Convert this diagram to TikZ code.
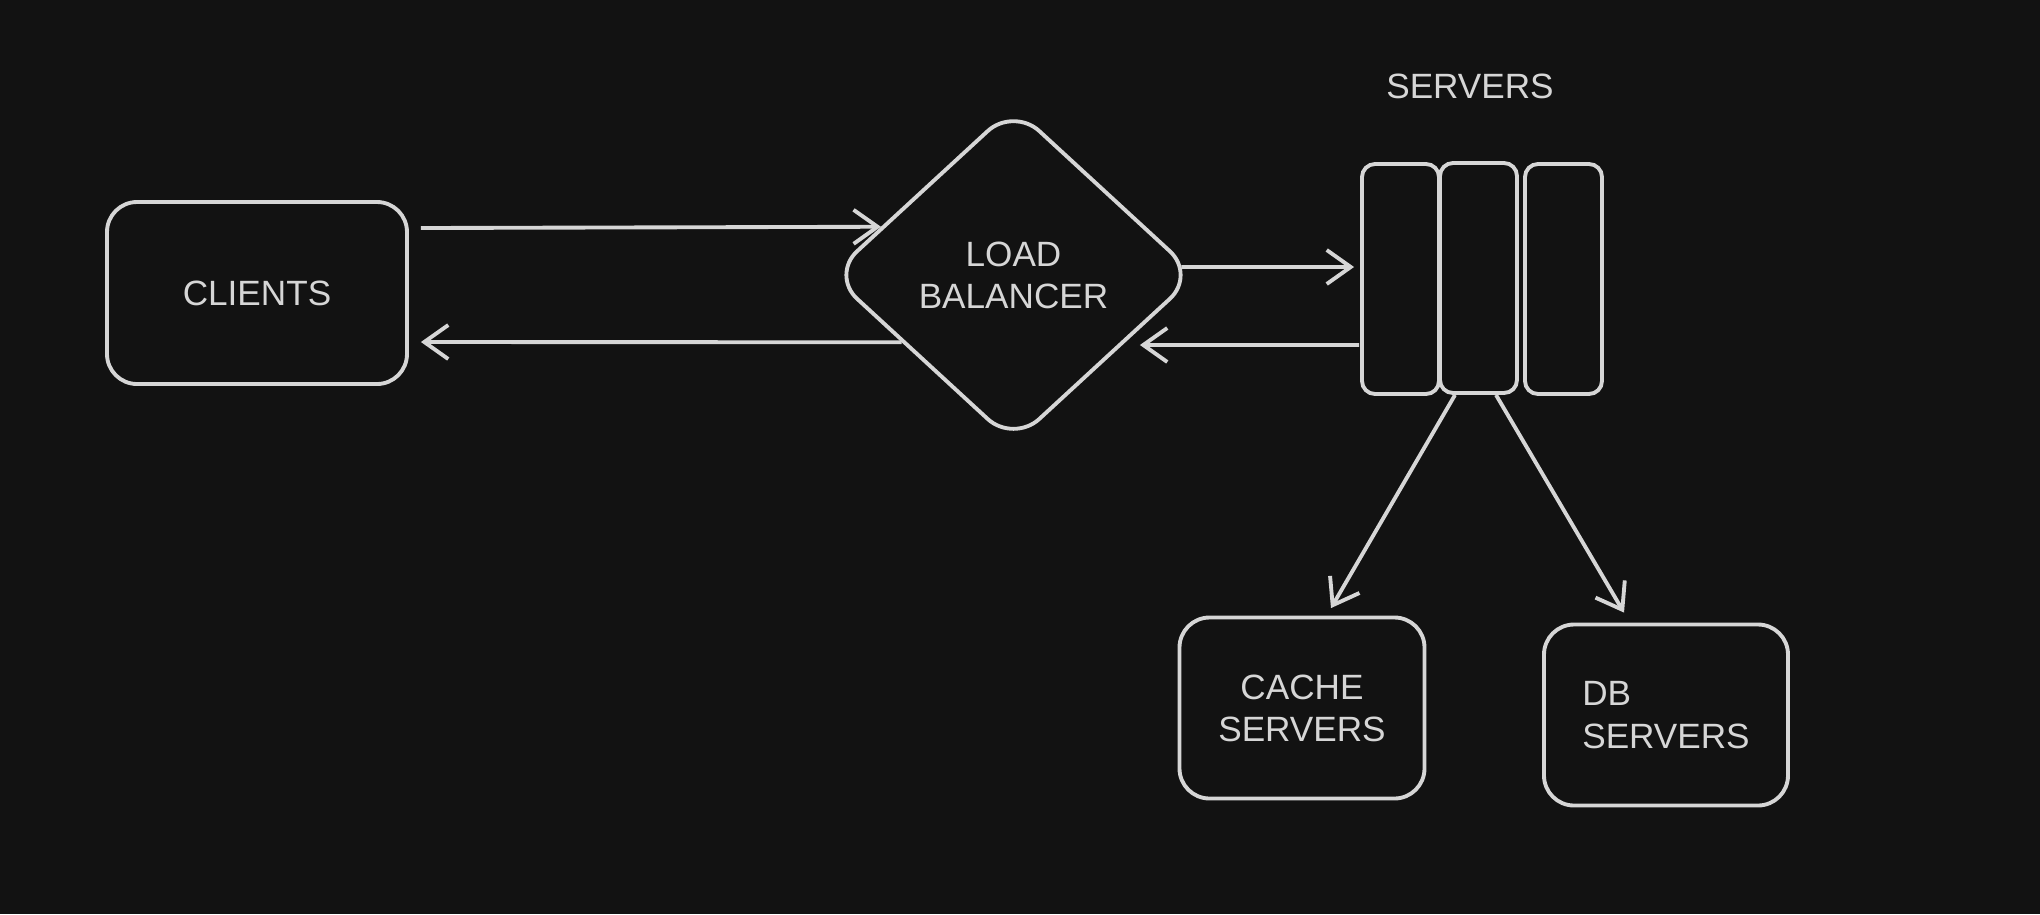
\documentclass[tikz,border=0pt]{standalone}
\usepackage{fontspec}
\setmainfont{Liberation Sans}
\usetikzlibrary{shapes.geometric,arrows.meta}
\definecolor{bg}{HTML}{121212}
\definecolor{ink}{HTML}{D6D6D6}
\tikzset{
    box/.style={draw=ink,rounded corners=3mm,line width=1.1pt,text=ink,align=center,inner sep=0pt},
    rack/.style={draw=ink,rounded corners=1.3mm,line width=1.1pt,minimum width=0.77cm,minimum height=2.3cm,inner sep=0pt},
    balancer/.style={diamond,draw=ink,rounded corners=3.5mm,line width=1.1pt,text=ink,align=center,minimum width=3.66cm,minimum height=3.37cm,inner sep=0pt},
    arr/.style={draw=ink,line width=1.1pt,-{Straight Barb[length=2.4mm,width=3.4mm]}}
}

\begin{document}
\begin{tikzpicture}
    \fill[bg] (0,0) rectangle (20.40,-9.14);
    \useasboundingbox (0,0) rectangle (20.40,-9.14);
    \node[box,minimum width=3cm,minimum height=1.82cm] (clients) at (2.57,-2.93) {CLIENTS};
    \node[balancer] (lb) at (10.135,-2.75) {LOAD\\BALANCER};
    \node[rack] (rack1) at (14.005,-2.79) {};
    \node[rack] (rack2) at (14.785,-2.78) {};
    \node[rack] (rack3) at (15.635,-2.79) {};
    \node[text=ink] (srvlabel) at (14.70,-0.86) {SERVERS};
    \node[box,minimum width=2.45cm,minimum height=1.81cm] (cache) at (13.02,-7.08) {CACHE\\SERVERS};
    \node[box,align=left,minimum width=2.44cm,minimum height=1.81cm] (db) at (16.66,-7.15) {DB\\SERVERS};
    \draw[arr] ([xshift=1.2mm,yshift=6.5mm]clients.east) -- (lb.160);
    \draw[arr] (lb.211) -- ([xshift=1.2mm,yshift=-4.9mm]clients.east);
    \draw[arr] ([xshift=-1.7mm,yshift=0.8mm]lb.east) -- ([xshift=-0.6mm,yshift=1.2mm]rack1.west);
    \draw[arr] ([xshift=-0.1mm,yshift=-6.6mm]rack1.west) -- ([xshift=-5.85mm,yshift=-7mm]lb.east);
    \draw[arr] ([xshift=-2.35mm]rack2.south) -- ([xshift=2.9mm,yshift=0.75mm]cache.north);
    \draw[arr] ([xshift=1.75mm]rack2.south) -- ([xshift=-4.2mm,yshift=1mm]db.north);
\end{tikzpicture}
\end{document}
